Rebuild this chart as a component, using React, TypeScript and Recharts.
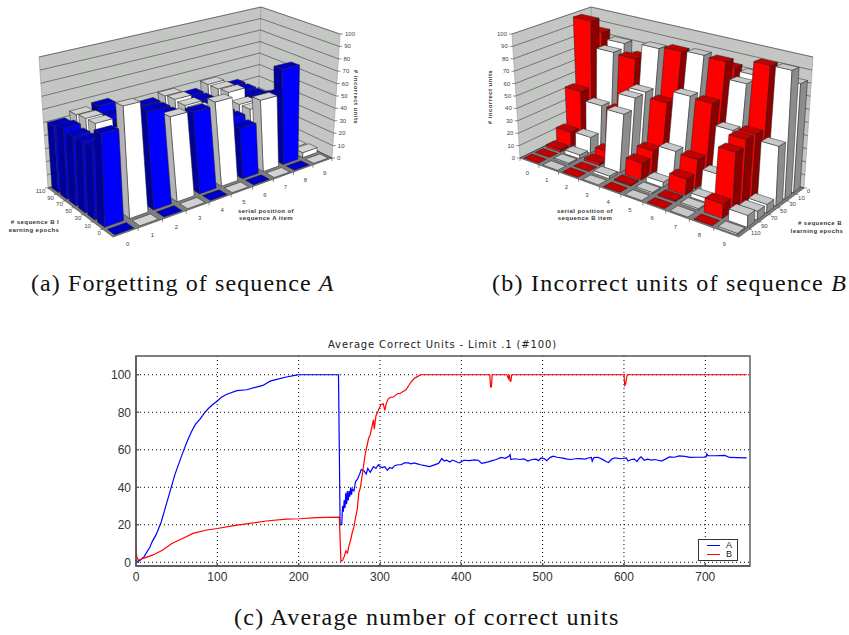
import React from "react";
import {
  ScatterChart, Scatter, XAxis, YAxis, LineChart, Line, CartesianGrid, Legend, ReferenceArea,
} from "recharts";

// 3D bar charts: one row per serial position, one value per learning-epoch step
const POSITIONS = [0, 1, 2, 3, 4, 5, 6, 7, 8, 9];
const EPOCHS = [0, 10, 30, 50, 70, 90, 110];
const Z_TICKS = [0, 10, 20, 30, 40, 50, 60, 70, 80, 90, 100];

const FORGET_A = [
  [0, 63, 50, 50, 50, 52, 50],
  [0, 78, 50, 50, 55, 55, 54],
  [0, 70, 50, 50, 50, 52, 56],
  [0, 62, 50, 48, 46, 46, 46],
  [0, 61, 50, 48, 47, 47, 47],
  [0, 64, 48, 50, 50, 51, 50],
  [0, 39, 42, 42, 45, 45, 45],
  [0, 56, 45, 45, 51, 50, 50],
  [0, 76, 51, 45, 43, 43, 43],
  [0, 4, 3, 3, 2, 2, 2],
];

const INCORRECT_B = [
  [85, 98, 42, 12, 2, 0, 0],
  [80, 76, 35, 13, 3, 1, 0],
  [72, 75, 35, 6, 2, 0, 0],
  [80, 88, 56, 55, 46, 2, 0],
  [80, 90, 52, 18, 13, 1, 0],
  [80, 91, 62, 23, 4, 1, 0],
  [82, 90, 61, 22, 12, 1, 0],
  [80, 77, 45, 16, 3, 1, 0],
  [80, 95, 47, 47, 42, 10, 0],
  [82, 95, 43, 6, 6, 8, 1],
];

// Line chart series
const A_EPOCHS = [
  0, 3, 5, 10, 17, 20, 25, 31, 36, 40, 44, 48, 53, 58, 63, 68, 73, 79, 84, 89, 94, 100, 105, 111, 124, 136, 148, 156, 165, 173, 185, 197, 200, 249, 250, 251, 253,
  254, 255, 256, 257, 258, 259, 260, 261, 262, 263, 264, 265, 266, 268, 270, 272, 275, 277, 280, 283, 285, 288, 292, 295, 298, 300, 303, 306, 309, 312, 315, 318, 322, 326, 330, 335, 338, 342, 346, 350, 355, 361,
  372, 376, 379, 382, 386, 389, 392, 396, 398, 403,
  410, 416, 421, 425, 428, 433, 438, 443, 449, 454,
  459, 460, 461, 466, 472, 477, 482, 487, 492, 495,
  498, 502, 505, 509, 513, 518, 525, 530, 535, 540,
  546, 552, 556, 560, 561, 563, 568, 573, 578, 581,
  585, 589, 596, 603, 605, 609, 613, 616, 619, 621,
  625, 629, 634, 638, 642, 646, 651, 656, 662, 668,
  675, 681, 690, 698, 701, 702, 703, 712, 724, 730,
  740, 751,
];
const A_VALUES = [
  0.5, 0.5, 1, 3, 8, 11, 15, 21.5, 29, 35, 41, 47, 53, 59, 64.5, 69.5, 73.5, 76.5, 79.5, 82, 84, 86, 88, 89.5, 91.5, 92, 93.4, 94.3, 96.6, 97.5, 98.8, 99.8, 100, 100, 60, 20, 20,
  30, 27, 33, 29, 37, 31, 38, 33, 38, 35, 40, 36, 39, 38, 43, 44, 47, 49.5, 49, 47, 50, 48, 51, 50, 52, 51, 50.5, 51, 49, 50.5, 50, 51.5, 52, 52, 53, 53, 52.5, 53, 52.5, 52, 51.5, 51,
  52.7, 55.3, 54, 54.4, 53.5, 54.5, 54, 53.2, 53, 54.4,
  54.2, 54.6, 54.4, 52.7, 53, 53.5, 54.2, 54.8, 55.9, 55.4,
  56.6, 57.4, 54.8, 55.2, 54.8, 55.1, 54, 54.8, 55, 54.2,
  55.6, 55.3, 54.2, 55.8, 56.6, 56, 55.5, 55, 54.8, 55.2,
  55.3, 55, 55.6, 55.9, 53.8, 55.8, 56, 55, 53.7, 53.2,
  55, 55.7, 55.2, 55.7, 54, 54.8, 55, 53.7, 55.5, 56.2,
  54.4, 55, 54.5, 54.8, 54.4, 54, 55, 56.2, 56, 56.7,
  56.5, 55.9, 56, 56.1, 56.2, 57.8, 56.9, 56.8, 57, 55.9,
  55.8, 55.7,
];

const B_EPOCHS = [0, 1, 3, 9, 21, 33, 44, 58, 70, 87, 100, 120, 140, 160, 185, 201, 222, 250, 251, 252, 254, 256, 258, 260, 262, 264, 266, 268, 270, 272, 274, 276, 278, 280, 282, 284, 286, 288, 290, 292, 293, 295, 297, 299, 301, 304, 306, 308, 310, 313, 316, 319, 322, 325, 328, 332, 335, 338, 342, 346, 350, 435, 436, 437, 438, 456, 458, 459, 460, 461, 462, 600, 601, 602, 604, 751];
const B_VALUES = [7, 3, 1, 2.1, 3.9, 6.5, 10, 12.8, 15.4, 17.2, 18, 19.5, 20.7, 22, 23, 23.2, 23.8, 24.1, 12, 0.5, 1, 3, 6, 5, 9, 12, 16, 19, 24, 28, 37, 40, 46, 52, 58, 62, 66, 68, 72, 76, 71, 78, 80, 82, 84, 84.5, 81, 85, 87, 88, 88, 89, 90, 90, 91, 92, 94, 96, 98, 99, 100, 100, 93.5, 93.5, 100, 100, 98, 100, 96.6, 96.6, 100, 100, 94.3, 95, 100, 100];

const X_TICKS = [0, 100, 200, 300, 400, 500, 600, 700];
const Y_TICKS = [0, 20, 40, 60, 80, 100];

const seriesA = A_EPOCHS.map((x, i) => ({ x, y: A_VALUES[i] }));
const seriesB = B_EPOCHS.map((x, i) => ({ x, y: B_VALUES[i] }));

type Pt = [number, number];

// square -> quad homography
function quadMap(p0: Pt, p1: Pt, p2: Pt, p3: Pt) {
  const dx1 = p1[0] - p2[0], dx2 = p3[0] - p2[0], sx = p0[0] - p1[0] + p2[0] - p3[0];
  const dy1 = p1[1] - p2[1], dy2 = p3[1] - p2[1], sy = p0[1] - p1[1] + p2[1] - p3[1];
  const den = dx1 * dy2 - dx2 * dy1;
  const g = (sx * dy2 - dx2 * sy) / den;
  const h = (dx1 * sy - sx * dy1) / den;
  const a = p1[0] - p0[0] + g * p1[0], b = p3[0] - p0[0] + h * p3[0];
  const d = p1[1] - p0[1] + g * p1[1], e = p3[1] - p0[1] + h * p3[1];
  return (s: number, t: number): Pt => {
    const w = g * s + h * t + 1;
    return [(a * s + b * t + p0[0]) / w, (d * s + e * t + p0[1]) / w];
  };
}

// camera shape shared by both panels (panel b is its mirror image)
const floorMap = quadMap([113, 237], [332, 158], [258, 122], [48, 188]);
const ceilMap = quadMap([108, 84], [340, 34], [261, 7], [39, 57]);

function project(u: number, v: number, z: number, mirror: boolean): Pt {
  const f = floorMap(u / 10, v / 7);
  const c = ceilMap(u / 10, v / 7);
  const k = z / 100;
  const x = f[0] + (c[0] - f[0]) * k;
  const y = f[1] + (c[1] - f[1]) * k;
  return [mirror ? 852 - x : x, y];
}

const pts = (list: Pt[]) => list.map((p) => p[0].toFixed(1) + "," + p[1].toFixed(1)).join(" ");

interface Palette { front: string; top: string; side: string }
const WHITE_A: Palette = { front: "#ffffff", top: "#d2d2d2", side: "#b4b4b4" };
const WHITE_B: Palette = { front: "#ffffff", top: "#c8c8c8", side: "#8c8c8c" };
const BLUE: Palette = { front: "#0000ff", top: "#0000c4", side: "#00009a" };
const RED: Palette = { front: "#ff0000", top: "#c40000", side: "#8c0000" };

function buildBars(values: number[][], mirror: boolean, color: Palette, white: Palette) {
  const out: any[] = [];
  POSITIONS.forEach((pos) => {
    EPOCHS.forEach((_, ei) => {
      const u = mirror ? 9 - pos : pos;
      const v = mirror ? 6 - ei : ei;
      const c = project(u + 0.5, v + 0.5, 0, mirror);
      out.push({
        x: c[0], y: c[1], u, v, z: values[pos][ei], mirror,
        palette: pos % 2 === 0 ? color : white,
      });
    });
  });
  // back to front
  return out.sort((p, q) => q.u + q.v - (p.u + p.v));
}

// the shapes draw in page space, shifted by what the chart's own scales give for the point
const shift = (props: any) => `translate(${props.cx - props.payload.x} ${props.cy - props.payload.y})`;

function BarShape(props: any) {
  const { u, v, z, mirror, palette } = props.payload;
  const gap = 0.12;
  const u0 = u + gap, u1 = u + 1 - gap, v0 = v + gap * 1.1, v1 = v + 1 - gap * 1.1;
  const P = (a: number, b: number, h: number) => project(a, b, h, mirror);
  return (
    <g transform={shift(props)} stroke="#222" strokeWidth={0.5} strokeLinejoin="round">
      {z > 0 && <polygon points={pts([P(u0, v0, 0), P(u1, v0, 0), P(u1, v0, z), P(u0, v0, z)])} fill={palette.front} />}
      {z > 0 && <polygon points={pts([P(u0, v0, 0), P(u0, v1, 0), P(u0, v1, z), P(u0, v0, z)])} fill={palette.side} />}
      <polygon points={pts([P(u0, v0, z), P(u1, v0, z), P(u1, v1, z), P(u0, v1, z)])} fill={palette.top} />
    </g>
  );
}

function WallShape(props: any) {
  const mirror = props.payload.mirror;
  const P = (a: number, b: number, h: number) => project(a, b, h, mirror);
  return (
    <g transform={shift(props)}>
      <polygon points={pts([P(0, 7, 0), P(10, 7, 0), P(10, 7, 100), P(0, 7, 100)])} fill="#c4c6c4" stroke="#999" strokeWidth={0.6} />
      <polygon points={pts([P(10, 0, 0), P(10, 7, 0), P(10, 7, 100), P(10, 0, 100)])} fill="#c4c6c4" stroke="#999" strokeWidth={0.6} />
      <polygon points={pts([P(0, 0, 0), P(10, 0, 0), P(10, 7, 0), P(0, 7, 0)])} fill="#7e7e7e" stroke="#555" strokeWidth={0.8} />
      {Z_TICKS.map((t) => (
        <polyline key={t} points={pts([P(0, 7, t), P(10, 7, t), P(10, 0, t)])} fill="none" stroke="#3c3c3c" strokeWidth={0.6} />
      ))}
    </g>
  );
}

const TICK_FONT = { fontFamily: "Liberation Sans", fontSize: 6, fill: "#444" };

function TickShape(props: any) {
  const { label, anchor, dx, dy, x, y, x1, y1, x2, y2 } = props.payload;
  return (
    <g transform={shift(props)}>
      <line x1={x1} y1={y1} x2={x2} y2={y2} stroke="#444" strokeWidth={0.6} />
      <text x={x + dx} y={y + dy} textAnchor={anchor} {...TICK_FONT}>{label}</text>
    </g>
  );
}

function buildTicks(mirror: boolean) {
  const out: any[] = [];
  const sgn = mirror ? -1 : 1;
  POSITIONS.forEach((pos) => {
    const u = mirror ? 9 - pos : pos;
    const p = project(u + 0.5, 0, 0, mirror);
    const e = project(u + 1, 0, 0, mirror);
    out.push({ x: p[0], y: p[1], label: pos, anchor: "middle", dx: 2 * sgn, dy: 14, x1: e[0], y1: e[1], x2: e[0], y2: e[1] + 3 });
  });
  EPOCHS.forEach((ep, ei) => {
    const v = mirror ? 6 - ei : ei;
    const p = project(0, v + 0.5, 0, mirror);
    const e = project(0, v + 1, 0, mirror);
    out.push({ x: p[0], y: p[1], label: ep, anchor: mirror ? "start" : "end", dx: -7 * sgn, dy: 2, x1: e[0], y1: e[1], x2: e[0] - 3 * sgn, y2: e[1] });
  });
  Z_TICKS.forEach((t) => {
    const p = project(10, 0, t, mirror);
    out.push({ x: p[0], y: p[1], label: t, anchor: mirror ? "end" : "start", dx: 5 * sgn, dy: 2, x1: p[0], y1: p[1], x2: p[0] + 3 * sgn, y2: p[1] });
  });
  return out;
}

const AXIS_TEXT = { fontFamily: "Liberation Sans", fontSize: 6, fontWeight: 700, fill: "#333", letterSpacing: 0.45 };

function Panel({ values, color, white, mirror, left }: { values: number[][]; color: Palette; white: Palette; mirror: boolean; left: number }) {
  const bars = buildBars(values, mirror, color, white);
  const corner = project(5, 3.5, 0, mirror);
  const wall = [{ x: corner[0], y: corner[1], mirror }];
  const ticks = buildTicks(mirror);
  return (
    <div style={{ position: "absolute", left, top: 0 }}>
      <ScatterChart width={425} height={260} margin={{ top: 0, right: 0, bottom: 0, left: 0 }}>
        <XAxis type="number" dataKey="x" domain={[left, left + 425]} hide />
        <YAxis type="number" dataKey="y" domain={[0, 260]} reversed hide />
        <Scatter data={wall} shape={WallShape} isAnimationActive={false} />
        <Scatter data={bars} shape={BarShape} isAnimationActive={false} />
        <Scatter data={ticks} shape={TickShape} isAnimationActive={false} />
      </ScatterChart>
    </div>
  );
}

const svgLabel = (text: string, x: number, y: number, rotate = 0) => (
  <text x={x} y={y} textAnchor="middle" transform={rotate ? `rotate(${rotate} ${x} ${y})` : undefined} {...AXIS_TEXT}>{text}</text>
);

const caption: React.CSSProperties = {
  position: "absolute", fontFamily: "Liberation Serif", fontSize: 24, whiteSpace: "nowrap", color: "#111",
};

function LegendBox() {
  return (
    <div style={{ width: 40, height: 22, border: "1px solid #333", background: "#fff", boxSizing: "border-box", position: "relative", fontFamily: "Liberation Sans", fontSize: 9, lineHeight: "9px", color: "#222" }}>
      {[["A", "#0000ff", 1], ["B", "#ff0000", 10]].map(([n, c, t]) => (
        <div key={n as string} style={{ position: "absolute", top: t as number, left: 8, display: "flex", alignItems: "center" }}>
          <span style={{ width: 13, height: 1, background: c as string, display: "inline-block", marginRight: 6 }} />
          {n}
        </div>
      ))}
    </div>
  );
}

export default function App() {
  return (
    <div style={{ position: "absolute", left: 0, top: 0, width: 849, height: 635, background: "#fff", overflow: "hidden" }}>
      <Panel values={FORGET_A} color={BLUE} white={WHITE_A} mirror={false} left={0} />
      <Panel values={INCORRECT_B} color={RED} white={WHITE_B} mirror={true} left={424} />

      <svg width={849} height={260} style={{ position: "absolute", left: 0, top: 0, pointerEvents: "none" }}>
        {svgLabel("# sequence B l", 35, 224)}
        {svgLabel("earning epochs", 34, 232)}
        {svgLabel("serial position of", 266, 213)}
        {svgLabel("sequence A item", 266, 220)}
        {svgLabel("# incorrect units", 354, 97, 90)}
        {svgLabel("# incorrect units", 492, 97, -90)}
        {svgLabel("serial position of", 585, 213)}
        {svgLabel("sequence B item", 585, 220)}
        {svgLabel("# sequence B", 820, 225)}
        {svgLabel("learning epochs", 817, 233)}
      </svg>

      <div style={{ ...caption, left: 31, top: 270, letterSpacing: 1.1 }}>(a) Forgetting of sequence <i>A</i></div>
      <div style={{ ...caption, left: 492, top: 270, letterSpacing: 1.25 }}>(b) Incorrect units of sequence <i>B</i></div>
      <div style={{ ...caption, left: 234, top: 604, letterSpacing: 1.26 }}>(c) Average number of correct units</div>

      <div style={{ position: "absolute", left: 328, top: 339, fontFamily: "DejaVu Sans", fontSize: 10, letterSpacing: 0.86, color: "#222", whiteSpace: "nowrap" }}>
        Average Correct Units - Limit .1 (#100)
      </div>

      <div style={{ position: "absolute", left: 0, top: 330 }}>
        <LineChart width={849} height={270} margin={{ top: 26, right: 99, bottom: 4, left: 96 }}>
          <CartesianGrid stroke="#000" strokeDasharray="1 3" horizontalValues={Y_TICKS} verticalValues={X_TICKS} syncWithTicks />
          <XAxis type="number" dataKey="x" domain={[0, 755]} ticks={X_TICKS} height={30} tickSize={-3} tickMargin={9}
            stroke="#555" strokeWidth={1.4} tick={{ fontFamily: "Liberation Sans", fontSize: 12, fill: "#333" }} allowDataOverflow />
          <YAxis type="number" domain={[-2, 110]} ticks={Y_TICKS} width={40} tickSize={-3} tickMargin={8}
            stroke="#555" strokeWidth={1.4} tick={{ fontFamily: "Liberation Sans", fontSize: 12, fill: "#333" }} allowDataOverflow />
          <ReferenceArea x1={0} x2={755} y1={-2} y2={110} fill="none" stroke="#555" strokeWidth={1.4} ifOverflow="visible" />
          <Line data={seriesA} dataKey="y" name="A" stroke="#0000ff" strokeWidth={1.2} dot={false} type="linear" isAnimationActive={false} />
          <Line data={seriesB} dataKey="y" name="B" stroke="#ff0000" strokeWidth={1.2} dot={false} type="linear" isAnimationActive={false} />
          <Legend layout="horizontal" align="center" verticalAlign="middle" content={<LegendBox />} wrapperStyle={{ position: "absolute", left: 698, top: 209, width: 40, height: 22, bottom: "auto" }} />
        </LineChart>
      </div>
    </div>
  );
}
